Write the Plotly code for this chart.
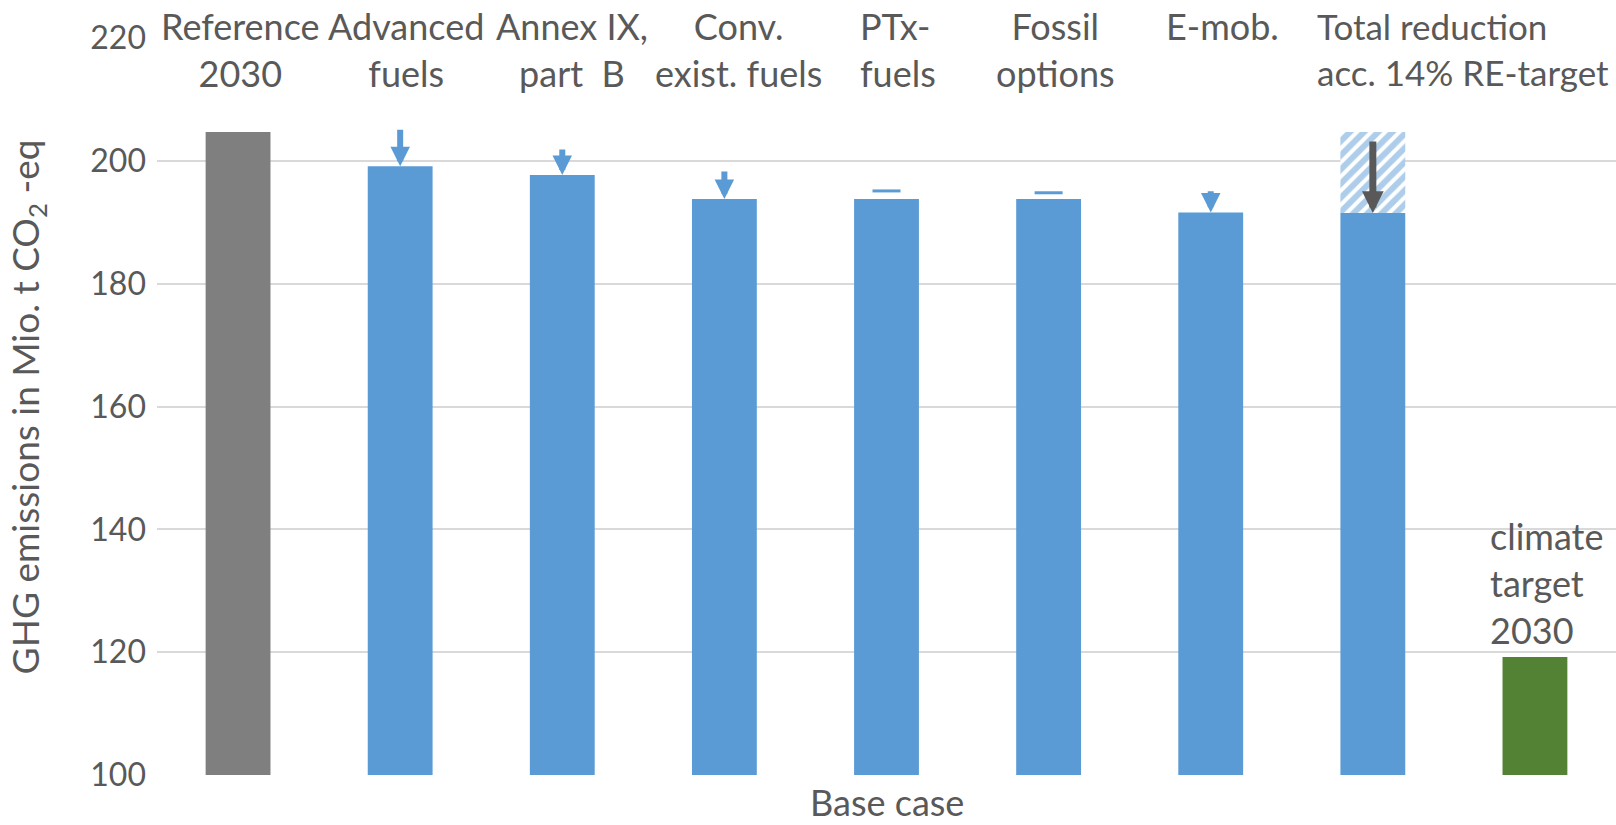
import plotly.graph_objects as go

# Scenario steps (base case) and their GHG emissions in Mio. t CO2-eq
categories = ["Reference 2030", "Advanced fuels", "Annex IX, part B", "Conv. exist. fuels",
              "PTx-fuels", "Fossil options", "E-mob.", "Total reduction", "climate target 2030"]
top_labels = ["Reference<br>2030", "Advanced<br>fuels", "Annex IX,<br>part  B", "Conv.<br>exist. fuels",
              "PTx-<br>fuels", "Fossil<br>options", "E-mob.<br> ", "Total reduction<br>acc. 14% RE-target", ""]
emissions = [204.7, 199.1, 197.7, 193.8, 193.8, 193.8, 191.6, 191.5, 119.2]

# Level before the 14 % RE-target reduction (hatched part of the total bar)
total_before = 204.7

# Reduction arrows: start level for each step (None = no arrow)
arrow_start = [None, 205.3, 202.1, 198.5, None, None, 195.3, 203.4, None]
# Steps with negligible reduction, shown only as a short dash
dash_level = [None, None, None, None, 195.1, 194.8, None, None, None]

y_ticks = [100, 120, 140, 160, 180, 200, 220]

GREY = "#7F7F7F"
BLUE = "#5B9BD5"
GREEN = "#548235"
TEXT = "#595959"
FONT = "Lato"

bar_colors = [GREY] + [BLUE] * 7 + [GREEN]

# Placement of the header labels above each bar
label_anchor = ["center", "center", "center", "center", "left", "center", "center", "left"]
label_shift = [2, 6, 10, 14, -29, 7, 12, -58]
label_size = [36, 36, 36, 36, 36, 36, 36, 35]

fig = go.Figure()

fig.add_trace(go.Bar(
    x=categories, y=[e - 100 for e in emissions], base=100,
    marker=dict(color=bar_colors, line=dict(width=0)),
    width=0.4, hoverinfo="skip", showlegend=False,
))

# Hatched segment for the total reduction
ti = 7
fig.add_trace(go.Bar(
    x=[categories[ti]], y=[total_before - emissions[ti]], base=emissions[ti],
    marker=dict(color="white", line=dict(width=0),
                pattern=dict(shape="/", fgcolor=BLUE, bgcolor="white",
                             size=10, solidity=0.6, fillmode="overlay")),
    width=0.4, hoverinfo="skip", showlegend=False,
))

# Short dashes for the steps with negligible reduction
dx = [c for c, d in zip(categories, dash_level) if d is not None]
dy = [d for d in dash_level if d is not None]
fig.add_trace(go.Scatter(
    x=dx, y=dy, mode="markers",
    marker=dict(symbol="line-ew", size=20, line=dict(color=BLUE, width=3)),
    hoverinfo="skip", showlegend=False,
))

annotations = []
for i, (c, s, e) in enumerate(zip(categories, arrow_start, emissions)):
    if s is None:
        continue
    dark = (i == ti)
    annotations.append(dict(
        x=c, y=e, ax=c, ay=s, xref="x", yref="y", axref="x", ayref="y",
        text="", showarrow=True, arrowhead=2,
        arrowwidth=7 if dark else 6, arrowsize=0.62 if dark else 0.65,
        arrowcolor="#595959" if dark else BLUE,
    ))

for c, lab, anc, sh, fs in zip(categories, top_labels, label_anchor, label_shift, label_size):
    annotations.append(dict(
        x=c, y=1, xref="x", yref="paper", yanchor="middle", yshift=-11,
        xanchor=anc, xshift=sh, align=anc,
        text=lab, showarrow=False,
        font=dict(family=FONT, size=fs, color=TEXT),
    ))

annotations.append(dict(
    x=categories[8], y=emissions[8], xref="x", yref="y",
    xanchor="left", yanchor="bottom", xshift=-47, yshift=3,
    text="climate<br>target<br>2030", showarrow=False, align="left",
    font=dict(family=FONT, size=36, color=TEXT),
))

annotations.append(dict(
    x=-0.0885, y=0.5, xref="paper", yref="paper", textangle=-90,
    xanchor="center", yanchor="middle",
    text="GHG emissions in Mio. t CO<sub>2</sub> -eq", showarrow=False,
    font=dict(family=FONT, size=37, color=TEXT),
))
annotations.append(dict(
    x=0.5, y=-0.036, xref="paper", yref="paper", xanchor="center", yanchor="middle",
    text="Base case", showarrow=False,
    font=dict(family=FONT, size=36, color=TEXT),
))

fig.update_layout(
    width=1616, height=825,
    margin=dict(l=157, r=0, t=38, b=50),
    paper_bgcolor="white", plot_bgcolor="white",
    barmode="overlay", bargap=0.6,
    annotations=annotations,
    xaxis=dict(type="category", categoryorder="array", categoryarray=categories,
               range=[-0.5, 8.5], showticklabels=False, showgrid=False,
               zeroline=False, showline=False, ticks=""),
    yaxis=dict(range=[100, 220], tickvals=y_ticks, showgrid=True,
               gridcolor="#D9D9D9", gridwidth=2, zeroline=False, showline=False,
               ticks="", ticklabelstandoff=10,
               tickfont=dict(family=FONT, size=32, color=TEXT)),
)

fig.write_html("out.html")
